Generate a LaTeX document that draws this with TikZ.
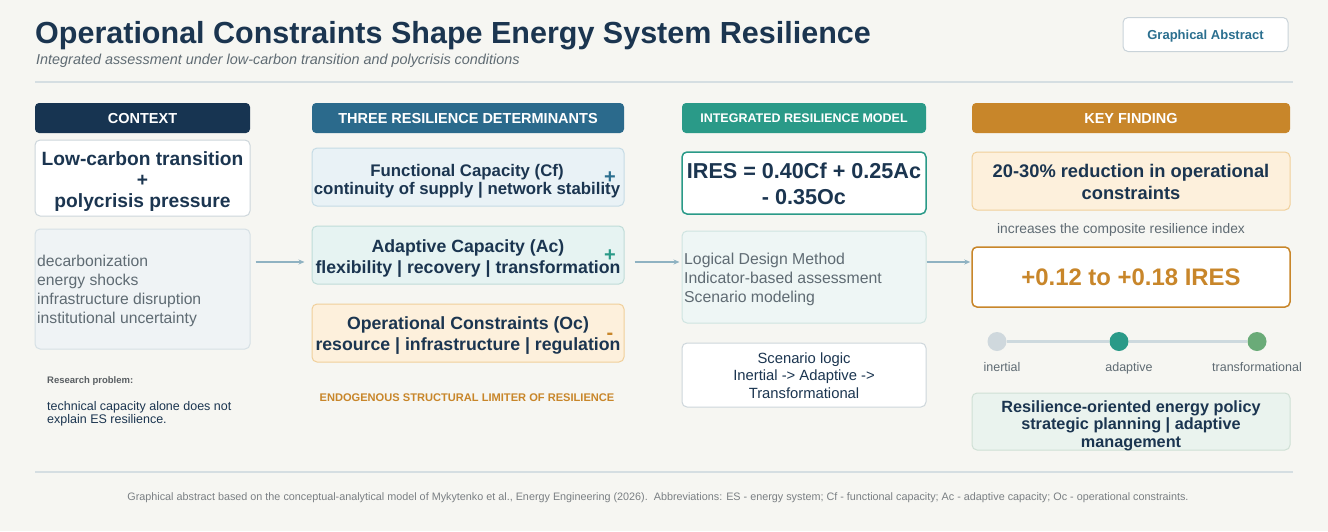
\documentclass[tikz,border=0pt]{standalone}
\usepackage{fontspec}
\setmainfont{Liberation Sans}
\usetikzlibrary{arrows.meta}
\definecolor{bg}{HTML}{F6F6F2}
\definecolor{navy}{HTML}{1B3550}
\definecolor{hdrdark}{HTML}{173451}
\definecolor{hdrblue}{HTML}{2B6A8C}
\definecolor{hdrteal}{HTML}{2A9A88}
\definecolor{hdrorange}{HTML}{C8862A}
\definecolor{subgray}{HTML}{5F6B73}
\definecolor{rulecol}{HTML}{D5DEE2}
\definecolor{arrowcol}{HTML}{8FB2C2}
\definecolor{btnborder}{HTML}{C9D3D9}
\definecolor{btntext}{HTML}{2B6F8F}
\definecolor{cardborder}{HTML}{CDD6DB}
\definecolor{grayfill}{HTML}{EFF3F5}
\definecolor{grayborder}{HTML}{D6E0E5}
\definecolor{bluefill}{HTML}{E9F2F6}
\definecolor{blueborder}{HTML}{C5DBE5}
\definecolor{tealfill}{HTML}{E6F3F2}
\definecolor{tealborder}{HTML}{BFDCD8}
\definecolor{orangefill}{HTML}{FDF0DC}
\definecolor{orangeborder}{HTML}{F0CF9A}
\definecolor{methodfill}{HTML}{EEF6F5}
\definecolor{methodborder}{HTML}{CFE4E1}
\definecolor{greenfill}{HTML}{EAF3EE}
\definecolor{greenborder}{HTML}{CFE0D5}
\definecolor{dotgray}{HTML}{CFD8DD}
\definecolor{dotgreen}{HTML}{6AAB78}
\definecolor{tlline}{HTML}{CDD9DE}
\definecolor{footgray}{HTML}{7A7F83}
\definecolor{rpgray}{HTML}{5A5F63}
\begin{document}
\begin{tikzpicture}[x=1pt,y=-1pt,
  hdr/.style={rounded corners=4pt, minimum height=30pt, inner sep=0pt, text=white, text height=10.4pt, text depth=0pt, font=\bfseries\fontsize{14.5}{16}\selectfont},
  card/.style={rounded corners=5pt, draw, line width=1pt, inner sep=0pt},
  txt/.style={inner sep=0pt, align=center, anchor=base},
  ltxt/.style={inner sep=0pt, align=left, anchor=base west},
  arr/.style={draw=arrowcol, line width=1.3pt, -{Stealth[length=6pt,width=5pt]}},
  sign/.style={font=\bfseries\fontsize{20}{20}\selectfont, inner sep=0pt},
  dot/.style={circle, minimum size=19pt, inner sep=0pt},
  tllabel/.style={font=\fontsize{12.5}{14}\selectfont, text=subgray, inner sep=0pt, anchor=base},
  rulestyle/.style={draw=rulecol, line width=1.5pt}
]
\fill[bg] (0,0) rectangle (1328,531);
\useasboundingbox (0,0) rectangle (1328,531);

% title area
\node[ltxt, text=navy, font=\bfseries\fontsize{30.5}{36}\selectfont] (title) at (35,43.5) {Operational Constraints Shape Energy System Resilience};
\node[ltxt, text=subgray, font=\itshape\fontsize{14.4}{16}\selectfont] (subtitle) at (36,64) {Integrated assessment under low-carbon transition and polycrisis conditions};
\node[card, draw=btnborder, fill=white, minimum width=165pt, minimum height=34pt, text=btntext, text height=9.6pt, text depth=0pt, font=\bfseries\fontsize{13}{15}\selectfont] (badge) at (1205.5,34.5) {Graphical Abstract};
\draw[rulestyle] (35,82) -- (1293,82);
\draw[rulestyle] (35,472) -- (1293,472);

% column headers
\node[hdr, fill=hdrdark, minimum width=215pt] (hctx) at (142.5,118) {CONTEXT};
\node[hdr, fill=hdrblue, minimum width=312pt] (hdet) at (468,118) {THREE RESILIENCE DETERMINANTS};
\node[hdr, fill=hdrteal, minimum width=244pt, text height=9pt, font=\bfseries\fontsize{12.5}{15}\selectfont] (hmod) at (804,118) {INTEGRATED RESILIENCE MODEL};
\node[hdr, fill=hdrorange, minimum width=318pt] (hkey) at (1131,118) {KEY FINDING};

% context column
\node[card, draw=cardborder, fill=white, minimum width=215pt, minimum height=76pt] (ctxmain) at (142.5,178) {};
\node[txt, text=navy, font=\bfseries\fontsize{19.2}{21}\selectfont] (ctxmaintxt) at (142.5,207.7) {Low-carbon transition\\+\\polycrisis pressure};
\node[card, draw=grayborder, fill=grayfill, minimum width=215pt, minimum height=120pt] (ctxlist) at (142.5,289) {};
\node[ltxt, text=subgray, font=\fontsize{15.7}{18.8}\selectfont] (ctxlisttxt) at (37,323) {decarbonization\\energy shocks\\infrastructure disruption\\institutional uncertainty};
\node[ltxt, text=rpgray, font=\bfseries\fontsize{9.5}{11}\selectfont] (rphead) at (47,383.5) {Research problem:};
\node[ltxt, text=navy, font=\fontsize{12.5}{13}\selectfont] (rptext) at (47,423) {technical capacity alone does not\\explain ES resilience.};

% determinants column
\node[card, draw=blueborder, fill=bluefill, minimum width=312pt, minimum height=58pt] (cf) at (468,177) {};
\node[card, draw=tealborder, fill=tealfill, minimum width=312pt, minimum height=58pt] (ac) at (468,255) {};
\node[card, draw=orangeborder, fill=orangefill, minimum width=312pt, minimum height=58pt] (oc) at (468,333) {};
\node[txt, text=navy, font=\bfseries\fontsize{16.8}{17.6}\selectfont] (cftxt) at (467,194.3) {Functional Capacity (Cf)\\continuity of supply | network stability};
\node[txt, text=navy, font=\bfseries\fontsize{17.7}{20.4}\selectfont] (actxt) at (468,273.3) {Adaptive Capacity (Ac)\\flexibility | recovery | transformation};
\node[txt, text=navy, font=\bfseries\fontsize{17.7}{20.2}\selectfont] (octxt) at (468,350) {Operational Constraints (Oc)\\resource | infrastructure | regulation};
\node[sign, text=btntext] (cfsign) at (610,177.5) {+};
\node[sign, text=hdrteal] (acsign) at (610,255.5) {+};
\node[sign, text=hdrorange] (ocsign) at (610,336) {-};
\node[txt, text=hdrorange, font=\bfseries\fontsize{11.1}{13}\selectfont] (limiter) at (467,401.7) {ENDOGENOUS STRUCTURAL LIMITER OF RESILIENCE};

% model column
\node[card, draw=hdrteal, line width=1.5pt, fill=white, minimum width=244pt, minimum height=62pt] (ires) at (804,183) {};
\node[txt, text=navy, font=\bfseries\fontsize{21.6}{26}\selectfont] (irestxt) at (804,204) {IRES = 0.40Cf + 0.25Ac\\- 0.35Oc};
\node[card, draw=methodborder, fill=methodfill, minimum width=244pt, minimum height=92pt] (method) at (804,277) {};
\node[ltxt, text=subgray, font=\fontsize{15.8}{18.8}\selectfont] (methodtxt) at (684,302) {Logical Design Method\\Indicator-based assessment\\Scenario modeling};
\node[card, draw=cardborder, fill=white, minimum width=244pt, minimum height=64pt] (scen) at (804,375) {};
\node[txt, text=navy, font=\fontsize{14.8}{17.5}\selectfont] (scentxt) at (804,398) {Scenario logic\\Inertial -> Adaptive ->\\Transformational};

% key finding column
\node[card, draw=orangeborder, fill=orangefill, minimum width=318pt, minimum height=58pt] (kf) at (1131,181) {};
\node[txt, text=navy, font=\bfseries\fontsize{18.3}{22}\selectfont] (kftxt) at (1131,199) {20-30\% reduction in operational\\constraints};
\node[txt, text=subgray, font=\fontsize{13.8}{16}\selectfont] (incr) at (1121,233) {increases the composite resilience index};
\node[card, draw=hdrorange, line width=1.5pt, fill=white, minimum width=318pt, minimum height=60pt] (gain) at (1131,277) {};
\node[txt, text=hdrorange, font=\bfseries\fontsize{23.9}{26}\selectfont] (gaintxt) at (1131,285.5) {+0.12 to +0.18 IRES};
\node[dot, fill=dotgray] (d1) at (997,341.5) {};
\node[dot, fill=hdrteal] (d2) at (1119,341.5) {};
\node[dot, fill=dotgreen] (d3) at (1257,341.5) {};
\draw[draw=tlline, line width=3pt] (d1) -- (d2);
\draw[draw=tlline, line width=3pt] (d2) -- (d3);
\node[tllabel] (l1) at (1002,371) {inertial};
\node[tllabel] (l2) at (1129,371) {adaptive};
\node[tllabel] (l3) at (1257,371) {transformational};
\node[card, draw=greenborder, fill=greenfill, minimum width=318pt, minimum height=57pt] (policy) at (1131,421.5) {};
\node[txt, text=navy, font=\bfseries\fontsize{16.25}{17.5}\selectfont] (policytxt) at (1131,447) {Resilience-oriented energy policy\\strategic planning | adaptive\\management};

% arrows
\coordinate (arow) at (0,262);
\draw[arr, shorten <=5pt, shorten >=7pt] (ctxlist.east |- arow) -- (ac.west |- arow);
\draw[arr, shorten <=10pt, shorten >=2pt] (ac.east |- arow) -- (method.west |- arow);
\draw[arr, shorten >=1pt] (method.east |- arow) -- (gain.west |- arow);

% footer
\node[txt, text=footgray, font=\fontsize{10.8}{12}\selectfont] (footer) at (658,500) {Graphical abstract based on the conceptual-analytical model of Mykytenko et al., Energy Engineering (2026).\ \ Abbreviations: ES - energy system; Cf - functional capacity; Ac - adaptive capacity; Oc - operational constraints.};
\end{tikzpicture}
\end{document}
